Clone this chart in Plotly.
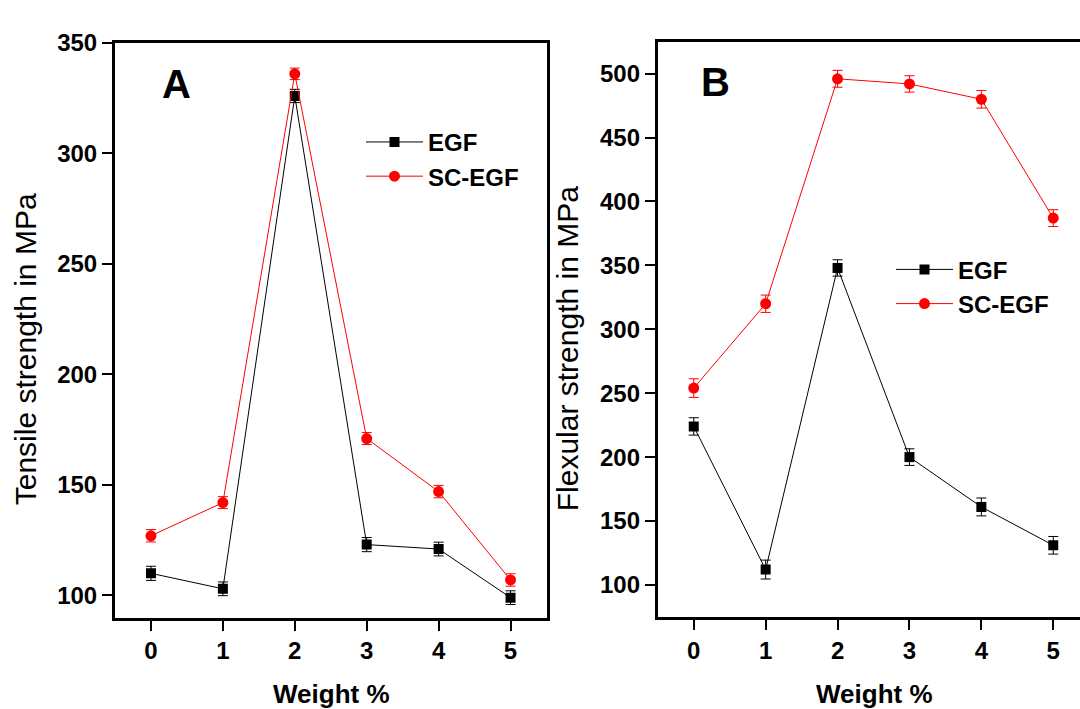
import plotly.graph_objects as go

weight = [0, 1, 2, 3, 4, 5]

tensile_egf = [110, 103, 326, 123, 121, 99]
tensile_egf_err = [3.2, 3.1, 3.0, 3.2, 3.1, 3.1]
tensile_sc = [127, 142, 336, 171, 147, 107]
tensile_sc_err = [2.8, 2.7, 2.6, 2.7, 2.8, 2.8]

flex_egf = [224, 112, 348, 200, 161, 131]
flex_egf_err = [6.8, 7.4, 6.4, 6.5, 7.0, 6.9]
flex_sc = [254, 320, 496, 492, 480, 387]
flex_sc_err = [7.3, 6.8, 6.6, 6.4, 6.9, 6.6]

series_names = ["EGF", "SC-EGF"]
tensile_ticks = [100, 150, 200, 250, 300, 350]
flex_ticks = [100, 150, 200, 250, 300, 350, 400, 450, 500]

FONT = "Liberation Sans"
BLACK = "#000000"
RED = "#ff0000"

fig = go.Figure()

def add_series(x, y, err, name, color, symbol, size, xa, ya, legend):
    fig.add_trace(go.Scatter(
        x=x, y=y, name=name, mode="lines+markers",
        xaxis=xa, yaxis=ya, legend=legend,
        line=dict(color=color, width=1),
        marker=dict(symbol=symbol, size=size, color=color),
        error_y=dict(type="data", array=err, visible=True, color=color,
                     thickness=1, width=5),
    ))

add_series(weight, tensile_egf, tensile_egf_err, series_names[0], BLACK, "square", 10, "x", "y", "legend")
add_series(weight, tensile_sc, tensile_sc_err, series_names[1], RED, "circle", 11, "x", "y", "legend")
add_series(weight, flex_egf, flex_egf_err, series_names[0], BLACK, "square", 10, "x2", "y2", "legend2")
add_series(weight, flex_sc, flex_sc_err, series_names[1], RED, "circle", 11, "x2", "y2", "legend2")

W, H = 1080, 709
tickfont = dict(family=FONT, size=24, color=BLACK, weight="bold")
axis_common = dict(showline=True, linewidth=3, linecolor=BLACK, ticks="outside",
                   ticklen=10, tickwidth=2, tickcolor=BLACK, showgrid=False,
                   zeroline=False, tickfont=tickfont)

legend_font = dict(family=FONT, size=24, color=BLACK, weight="bold")

fig.update_layout(
    width=W, height=H,
    margin=dict(l=0, r=0, t=0, b=0),
    paper_bgcolor="white", plot_bgcolor="white",
    xaxis=dict(domain=[115 / W, 546.5 / W], range=[-0.5, 5.5], tickvals=weight,
               mirror=True, anchor="y", **axis_common),
    yaxis=dict(domain=[1 - 615.7 / H, 1 - 29.5 / H], range=[90, 350], tickvals=tensile_ticks,
               mirror=True, anchor="x", **axis_common),
    xaxis2=dict(domain=[657.8 / W, 1.0], range=[-0.5, -0.5 + (W - 657.8) / 71.9], tickvals=weight,
                mirror=True, anchor="y2", **axis_common),
    yaxis2=dict(domain=[1 - 615.0 / H, 1 - 28.3 / H], range=[75, 525], tickvals=flex_ticks,
                mirror=False, anchor="x2", **axis_common),
    legend=dict(x=361 / W, y=1 - 108 / H, xanchor="left", yanchor="top",
                bgcolor="rgba(0,0,0,0)", font=legend_font, itemwidth=57,
                tracegroupgap=0),
    legend2=dict(x=891 / W, y=1 - 238 / H, xanchor="left", yanchor="top",
                 bgcolor="rgba(0,0,0,0)", font=legend_font, itemwidth=57,
                 tracegroupgap=0),
    showlegend=True,
)

def ann(text, x, y, size, bold=False, angle=0):
    fig.add_annotation(text=text, x=x / W, y=1 - y / H, xref="paper", yref="paper",
                       xanchor="center", yanchor="middle", showarrow=False,
                       textangle=angle,
                       font=dict(family=FONT, size=size, color=BLACK,
                                 weight="bold" if bold else "normal"))

ann("Tensile strength in MPa", 25, 342, 30, angle=-90)
ann("Flexular strength in MPa", 567, 342, 30, angle=-90)
ann("Weight %", 331, 694, 26, bold=True)
ann("Weight %", 874, 694, 26, bold=True)
ann("A", 176, 71, 40, bold=True)
ann("B", 715, 69, 40, bold=True)

fig.write_html("out.html")
